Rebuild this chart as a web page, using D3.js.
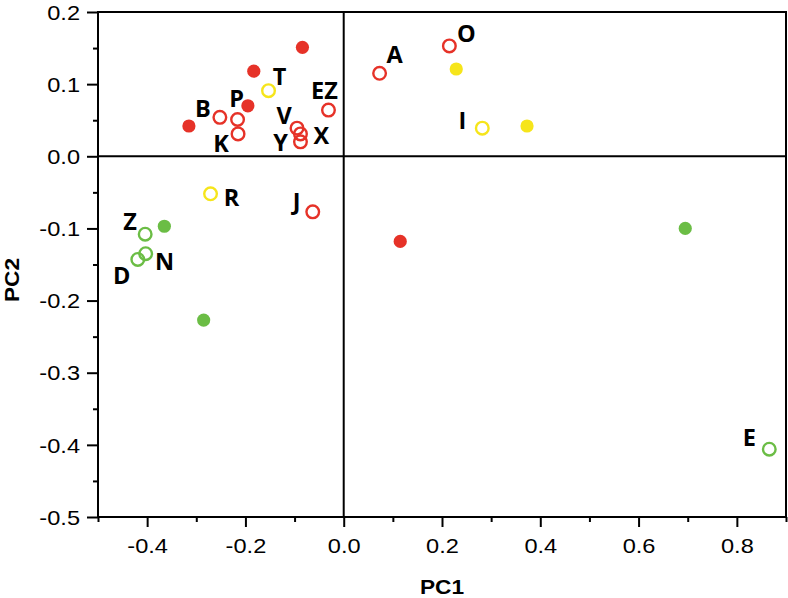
<!DOCTYPE html>
<html><head><meta charset="utf-8">
<script src="https://cdn.jsdelivr.net/npm/d3@7"></script>
<style>body{margin:0;background:#fff}</style>
</head><body>
<svg id="chart" width="788" height="598"></svg>
<script>
// ---- data ----
const labels = ["", "", "", "", "", "A", "O", "B", "P", "K", "V", "X", "Y", "EZ", "J", "", "", "T", "R", "I", "", "", "", "Z", "N", "D", "E"];
const pc1 = [-0.084, -0.183, -0.195, -0.315, 0.115, 0.073, 0.215, -0.252, -0.216, -0.215, -0.095, -0.088, -0.088, -0.031, -0.063, 0.229, 0.373, -0.153, -0.271, 0.282, -0.365, -0.285, 0.695, -0.404, -0.403, -0.419, 0.866];
const pc2 = [0.151, 0.118, 0.070, 0.042, -0.118, 0.115, 0.153, 0.054, 0.051, 0.031, 0.039, 0.031, 0.020, 0.064, -0.077, 0.121, 0.042, 0.091, -0.052, 0.039, -0.097, -0.227, -0.100, -0.108, -0.135, -0.143, -0.406];
const groups = ["red", "red", "red", "red", "red", "red", "red", "red", "red", "red", "red", "red", "red", "red", "red", "yellow", "yellow", "yellow", "yellow", "yellow", "green", "green", "green", "green", "green", "green", "green"];
const filled = [true, true, true, true, true, false, false, false, false, false, false, false, false, false, false, true, true, false, false, false, true, true, true, false, false, false, false];
const xTicks = [-0.4, -0.2, 0.0, 0.2, 0.4, 0.6, 0.8];
const xMinorTicks = [-0.5, -0.3, -0.1, 0.1, 0.3, 0.5, 0.7, 0.9];
const yTicks = [0.2, 0.1, 0.0, -0.1, -0.2, -0.3, -0.4, -0.5];
const yMinorTicks = [0.15, 0.05, -0.05, -0.15, -0.25, -0.35, -0.45];
const xTitle = "PC1", yTitle = "PC2";

// ---- layout / style ----
const colors = {red: "#e63228", yellow: "#f6e51b", green: "#6bbd45"};
const labelOffset = {A:[15,-19], O:[17,-12], B:[-17,-9], P:[-1,-21], K:[-17,10], V:[-13,-13], X:[21,2], Y:[-20,1], EZ:[-4,-20], J:[-16,-10], T:[11,-14], R:[21,4], I:[-20,-8], Z:[-15,-13], N:[19,8], D:[-16,16], E:[-20,-12]};
const L = 98, R = 786, T = 12, B = 517;

const svg = d3.select("#chart");
const x = d3.scaleLinear().domain([-0.5, 0.9]).range([L, R]);
const y = d3.scaleLinear().domain([-0.5, 0.2]).range([B, T]);
const fmt = d => d3.format(".1f")(d).replace("\u2212", "-");

// axes
const gx = svg.append("g").attr("transform", `translate(0,${B})`)
  .call(d3.axisBottom(x).tickValues(xTicks).tickSize(10).tickSizeOuter(0).tickFormat(fmt));
const gxm = svg.append("g").attr("transform", `translate(0,${B})`)
  .call(d3.axisBottom(x).tickValues(xMinorTicks).tickSize(5).tickSizeOuter(0).tickFormat(""));
const gy = svg.append("g").attr("transform", `translate(${L},0)`)
  .call(d3.axisLeft(y).tickValues(yTicks).tickSize(11).tickSizeOuter(0).tickFormat(fmt));
const gym = svg.append("g").attr("transform", `translate(${L},0)`)
  .call(d3.axisLeft(y).tickValues(yMinorTicks).tickSize(5).tickSizeOuter(0).tickFormat(""));
[gx, gxm, gy, gym].forEach(g => {
  g.select(".domain").remove();
  g.selectAll(".tick line").attr("stroke", "#000").attr("stroke-width", 2);
});
gx.selectAll(".tick text")
  .attr("font-family", "Liberation Sans, Arial, sans-serif").attr("font-size", 20).attr("fill", "#000")
  .attr("y", 36).attr("dy", "0").attr("transform", "scale(1.18,1)");
gy.selectAll(".tick text")
  .attr("font-family", "Liberation Sans, Arial, sans-serif").attr("font-size", 20).attr("fill", "#000")
  .attr("x", -18 / 1.18).attr("dy", "0.36em").attr("transform", "scale(1.18,1)");

// frame & zero lines
svg.append("rect").attr("x", L).attr("y", T).attr("width", R - L).attr("height", B - T)
  .attr("fill", "none").attr("stroke", "#000").attr("stroke-width", 2);
svg.append("line").attr("x1", x(0)).attr("x2", x(0)).attr("y1", T).attr("y2", B)
  .attr("stroke", "#000").attr("stroke-width", 2);
svg.append("line").attr("x1", L).attr("x2", R).attr("y1", y(0)).attr("y2", y(0))
  .attr("stroke", "#000").attr("stroke-width", 2);

// titles
svg.append("text").attr("transform", `translate(${(L + R) / 2},594) scale(1.08,1)`)
  .attr("text-anchor", "middle").attr("font-family", "Liberation Sans, Arial, sans-serif")
  .attr("font-weight", "bold").attr("font-size", 21).text(xTitle);
svg.append("text").attr("transform", `translate(19,280) rotate(-90) scale(1.08,1)`)
  .attr("text-anchor", "middle").attr("font-family", "Liberation Sans, Arial, sans-serif")
  .attr("font-weight", "bold").attr("font-size", 21).text(yTitle);

// points
const idx = d3.range(pc1.length);
svg.append("g").selectAll("circle").data(idx).join("circle")
  .attr("cx", i => x(pc1[i])).attr("cy", i => y(pc2[i]))
  .attr("r", i => filled[i] ? 6.6 : 6.3)
  .attr("fill", i => filled[i] ? colors[groups[i]] : "none")
  .attr("stroke", i => filled[i] ? "none" : colors[groups[i]])
  .attr("stroke-width", 2.4);

// labels
svg.append("g").selectAll("text").data(idx.filter(i => labels[i])).join("text")
  .attr("x", i => x(pc1[i]) + labelOffset[labels[i]][0])
  .attr("y", i => y(pc2[i]) + labelOffset[labels[i]][1])
  .attr("dy", "0.36em").attr("text-anchor", "middle")
  .attr("font-family", "Open Sans, sans-serif").attr("font-weight", "bold").attr("font-size", 23.5)
  .attr("fill", "#000").text(i => labels[i]);
</script>
</body></html>
